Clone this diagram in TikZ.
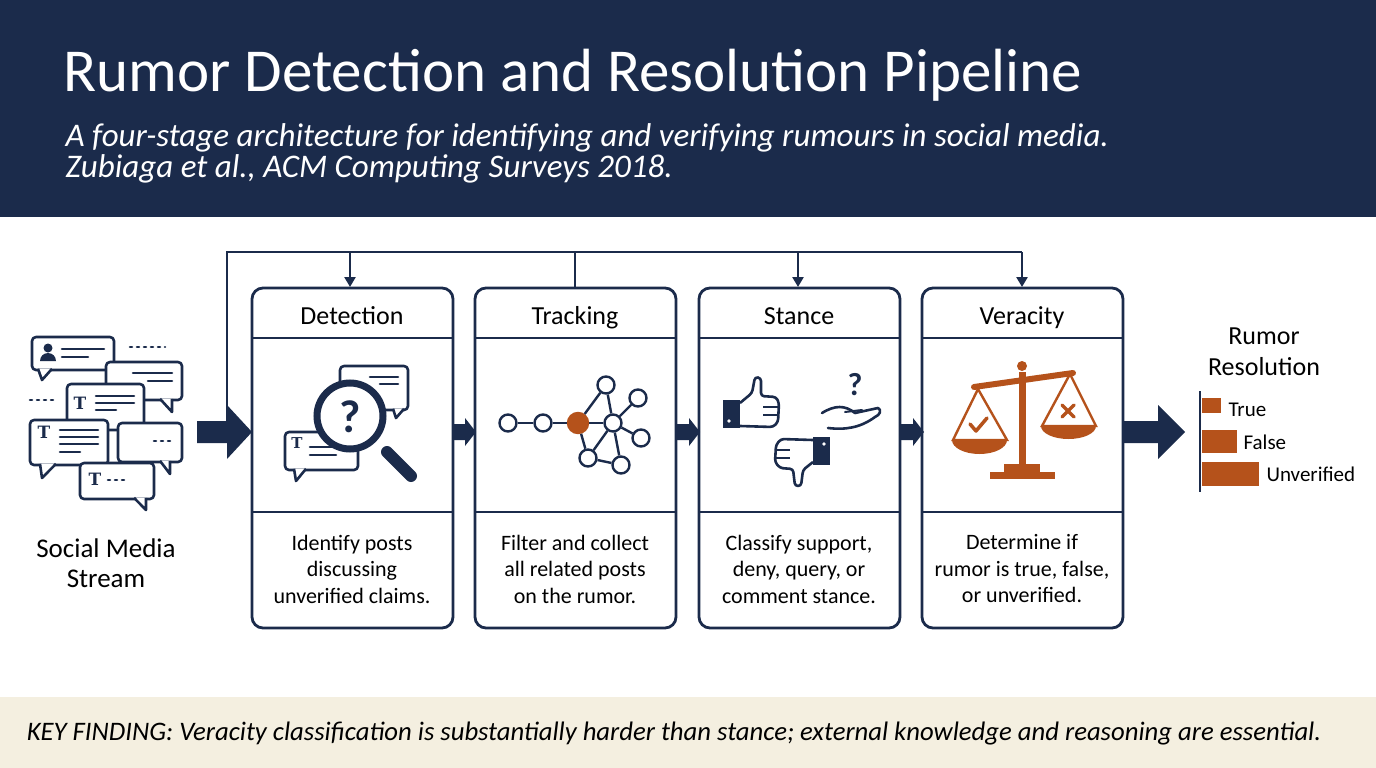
\documentclass[tikz,border=0pt]{standalone}
\usepackage{fontspec}
\setmainfont{Carlito}
\newfontfamily\serifT{DejaVu Serif}
\usetikzlibrary{arrows.meta,shapes.geometric}
\definecolor{navy}{HTML}{1B2B4B}
\definecolor{rust}{HTML}{B5521B}
\definecolor{beige}{HTML}{F4EFE0}
\tikzset{
 stagebox/.style={draw=navy,line width=2.8pt,rounded corners=11pt,fill=white},
 hdr/.style={font=\fontsize{26}{30}\selectfont,text=black,anchor=base},
 desc/.style={font=\fontsize{22}{26.5}\selectfont,align=center,text=black},
 ln/.style={draw=navy,line width=2.8pt},
 bub/.style={draw=navy,line width=2.6pt,fill=white,rounded corners=4pt,line join=round},
 txl/.style={draw=navy,line width=2.6pt,line cap=round},
 blk/.style={fill=navy,draw=none},
 nd/.style={circle,draw=navy,line width=2.4pt,fill=white,minimum size=17pt,inner sep=0pt},
 tt/.style={font=\fontsize{17}{17}\selectfont\bfseries\serifT,text=navy},
}
\begin{document}
\begin{tikzpicture}[x=1pt,y=-1pt]
\useasboundingbox (0,0) rectangle (1376,768);
% header
\fill[navy] (0,0) rectangle (1376,217);
\node[anchor=base west,text=white,font=\fontsize{61}{70}\selectfont] (title) at (60,92) {Rumor Detection and Resolution Pipeline};
\node[anchor=base west,text=white,font=\fontsize{33}{38}\selectfont\itshape] (sub) at (62,146) {A four-stage architecture for identifying and verifying rumours in social media.};
\node[anchor=base west,text=white,font=\fontsize{33}{38}\selectfont\itshape] (sub2) at (62,177) {Zubiaga et al., ACM Computing Surveys 2018.};
% footer
\fill[beige] (0,697) rectangle (1376,768);
\node[font=\fontsize{26.7}{30}\selectfont\itshape,text=black] (key) at (674,734) {KEY FINDING: Veracity classification is substantially harder than stance; external knowledge and reasoning are essential.};

% boxes
\foreach \n/\x/\t/\d in {det/252/Detection/{Identify posts\\discussing\\unverified claims.},
 trk/475/Tracking/{Filter and collect\\all related posts\\on the rumor.},
 stn/699/Stance/{Classify support,\\deny, query, or\\comment stance.},
 ver/922/Veracity/{Determine if\\rumor is true, false,\\or unverified.}}{
 \draw[stagebox] (\x,288) rectangle (\x+201,628);
 \draw[ln] (\x,338) -- (\x+201,338);
 \draw[ln] (\x,512) -- (\x+201,512);
 \node[hdr] (\n h) at (\x+100,324) {\t};
 \node[desc] (\n d) at (\x+100,569) {\d};
 \coordinate (\n top) at (\x+100,288);
}
% feedback loop
\coordinate (fbL) at (227,252);
\coordinate (fbR) at (1022,252);
\draw[ln,line width=2.6pt] (227,430) -- (fbL) -- (fbR);
\draw[ln,line width=2.6pt,-{Triangle[length=10pt,width=11pt]}] (350,252) -- (350,287);
\draw[ln,line width=2.6pt,-{Triangle[length=10pt,width=11pt]}] (798,252) -- (798,287);
\draw[ln,line width=2.6pt,-{Triangle[length=10pt,width=11pt]}] (fbR) -- (1022,287);
\draw[ln,line width=2.6pt] (575,252) -- (trktop);
% block arrows
\fill[blk] (197,421) -- (227,421) -- (227,405) -- (252,432) -- (227,459) -- (227,443) -- (197,443) -- cycle;
\foreach \x in {452,676,900}{
 \fill[blk] (\x,424) -- (\x+13,424) -- (\x+13,418) -- (\x+24,432) -- (\x+13,446) -- (\x+13,440) -- (\x,440) -- cycle;}
\fill[blk] (1124,421) -- (1158,421) -- (1158,405) -- (1185,432) -- (1158,459) -- (1158,443) -- (1124,443) -- cycle;

% social media icon
\node[font=\fontsize{27}{30}\selectfont,align=center] (sms) at (106,563) {Social Media\\Stream};
\draw[txl,dash pattern=on 2pt off 5pt] (130,347) -- (165,347);
\draw[txl,dash pattern=on 2pt off 5pt] (30,400) -- (57,400);
\draw[bub] (32,337) rectangle (114,370);
\draw[bub,rounded corners=0pt] (38,368.8) -- (42,380) -- (52,368.8);
\fill[navy] (48,348) circle (4.5); \fill[navy] (40,361) arc (180:360:8) -- cycle;
\draw[txl] (62,349) -- (104,349); \draw[txl] (62,357) -- (88,357);
\draw[bub] (106,362) rectangle (182,400);
\draw[bub,rounded corners=0pt] (160,398.8) -- (172,412) -- (172,398.8);
\draw[txl] (133,373) -- (172,373); \draw[txl] (148,381) -- (172,381);
\draw[bub] (67,384) rectangle (144,430);
\draw[bub,rounded corners=0pt] (118,428.8) -- (132,442) -- (132,428.8);
\node[tt] (t1) at (80,403) {T};
\draw[txl] (96,396) -- (134,396); \draw[txl] (96,403) -- (134,403); \draw[txl] (96,410) -- (116,410);
\draw[bub] (118,423) rectangle (182,462);
\draw[bub,rounded corners=0pt] (160,460.8) -- (170,474) -- (170,460.8);
\draw[txl,dash pattern=on 2pt off 5pt] (154,441) -- (174,441);
\draw[bub] (30,420) rectangle (108,465);
\draw[bub,rounded corners=0pt] (40,463.8) -- (42,478) -- (56,463.8);
\node[tt] (t2) at (44,432) {T};
\draw[txl] (60,430) -- (98,430); \draw[txl] (60,437) -- (98,437); \draw[txl] (60,444) -- (98,444); \draw[txl] (60,452) -- (80,452);
\draw[bub] (80,463) rectangle (154,499);
\draw[bub,rounded corners=0pt] (134,497.8) -- (146,510) -- (146,497.8);
\node[tt] (t3) at (95,479) {T};
\draw[txl,dash pattern=on 2pt off 5pt] (108,480) -- (128,480);

% detection icon
\draw[bub] (340,366) rectangle (408,410);
\draw[bub,rounded corners=0pt] (393,408.8) -- (396,418) -- (404,408.8);
\draw[txl] (370,377) -- (398,377); \draw[txl] (380,384) -- (398,384);
\draw[bub] (285,432) rectangle (358,470);
\draw[bub,rounded corners=0pt] (294,468.8) -- (296,481) -- (306,468.8);
\node[tt,font=\fontsize{15}{15}\selectfont\bfseries\serifT] (t4) at (297,443) {T};
\draw[txl] (310,447) -- (336,447); \draw[txl] (310,455) -- (336,455);
\draw[draw=navy,line width=7pt,fill=white] (350,416) circle (33);
\draw[navy,line width=12pt,line cap=round] (387,452) -- (411,476);
\node[font=\fontsize{46}{46}\selectfont\bfseries,text=navy] (qm) at (350,417) {?};

% tracking icon
\node[nd] (n1) at (508,423) {};
\node[nd] (n2) at (543,423) {};
\node[nd,fill=rust,draw=rust,minimum size=20pt] (n3) at (578,423) {};
\node[nd] (n4) at (613,423) {};
\node[nd] (n5) at (606,385) {};
\node[nd] (n6) at (638,398) {};
\node[nd] (n7) at (641,438) {};
\node[nd] (n8) at (588,458) {};
\node[nd] (n9) at (621,465) {};
\foreach \a/\b in {n1/n2,n2/n3,n3/n4,n3/n5,n5/n4,n4/n6,n4/n7,n3/n8,n4/n8,n8/n9,n4/n9}
 \draw[navy,line width=2.4pt] (\a) -- (\b);

% stance icon
\fill[navy] (723,400) rectangle (740,428);
\fill[white] (729,421) circle (1.8);
\draw[navy,line width=2.6pt,line join=round,rounded corners=3pt] (740,403) -- (752,393) -- (755,377) -- (761,378) -- (761,396) -- (776,397) -- (779,403) -- (778,422) -- (773,427) -- (740,426);
\draw[navy,line width=2pt] (763,407) -- (778,407) (763,415) -- (778,415);
\fill[navy] (813,437) rectangle (830,465);
\fill[white] (824,444) circle (1.8);
\draw[navy,line width=2.6pt,line join=round,rounded corners=3pt] (813,440) -- (781,439) -- (776,445) -- (775,462) -- (780,468) -- (793,469) -- (795,486) -- (801,486) -- (803,470) -- (813,462);
\draw[navy,line width=2pt] (776,450) -- (790,450) (776,458) -- (790,458);
\draw[navy,line width=2.6pt,line cap=round,line join=round] (822,413) .. controls (835,405) and (845,405) .. (855,413) -- (878,408) .. controls (882,410) and (880,415) .. (875,417) .. controls (860,428) and (845,430) .. (828,428);
\draw[navy,line width=2pt,line cap=round] (845,412) -- (862,410);
\node[font=\fontsize{32}{32}\selectfont\bfseries,text=navy] (sq) at (855,385) {?};

% veracity icon
\fill[rust] (1019,372) rectangle (1026,470);
\fill[rust] (1022,366) circle (5);
\draw[rust,line width=6pt,line cap=round] (974,387) -- (1073,373);
\fill[rust] (1004,464) rectangle (1040,472);
\fill[rust] (990,472) rectangle (1055,479);
\draw[rust,line width=2.4pt] (978,389) -- (953,440) -- (1007,440) -- cycle;
\fill[rust] (952,440) arc (180:0:27.5 and 14) -- cycle;
\draw[rust,line width=2.4pt] (1070,374) -- (1042,426) -- (1096,426) -- cycle;
\fill[rust] (1041,426) arc (180:0:27.5 and 13) -- cycle;
\draw[rust,line width=3.5pt,line cap=round,line join=round] (970,424) -- (976,431) -- (987,418);
\draw[rust,line width=3.5pt,line cap=round] (1062,405) -- (1074,417) (1074,405) -- (1062,417);

% resolution
\node[font=\fontsize{26}{31}\selectfont,align=center] (rr) at (1264,352) {Rumor\\Resolution};
\draw[navy,line width=2.6pt] (1200,391) -- (1200,492);
\fill[rust] (1202,398) rectangle (1221,413);
\fill[rust] (1202,430) rectangle (1237,453);
\fill[rust] (1202,462) rectangle (1259,486);
\node[anchor=west,font=\fontsize{21}{24}\selectfont] (lt) at (1225,410) {True};
\node[anchor=west,font=\fontsize{21}{24}\selectfont] (lf) at (1240,442) {False};
\node[anchor=west,font=\fontsize{21}{24}\selectfont] (lu) at (1263,474) {Unverified};
\end{tikzpicture}
\end{document}
